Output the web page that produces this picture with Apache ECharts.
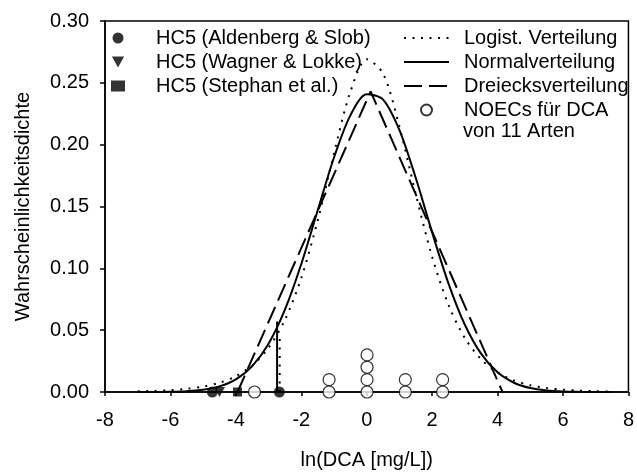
<!DOCTYPE html>
<html>
<head>
<meta charset="utf-8">
<script src="https://cdn.jsdelivr.net/npm/echarts@6/dist/echarts.min.js"></script>
<style>
  html, body { margin: 0; padding: 0; background: #fff; }
  #chart { width: 637px; height: 475px; }
</style>
</head>
<body>
<div id="chart"></div>
<script>
// x-Raster der Kurven (ln DCA)
const xs = [-7, -6.5, -6, -5.5, -5, -4.5, -4, -3.5, -3, -2.5, -2, -1.5, -1, -0.5, 0,
            0.5, 1, 1.5, 2, 2.5, 3, 3.5, 4, 4.5, 5, 5.5, 6, 6.5, 7, 7.5]
// Normalverteilung
const normalY = [0.00002, 0.00007, 0.00023, 0.00069, 0.00185, 0.00456, 0.0102, 0.0209, 0.0391, 0.0666,
                 0.1035, 0.1467, 0.1896, 0.2237, 0.2408, 0.2364, 0.2117, 0.1730, 0.1290, 0.0877,
                 0.0544, 0.0308, 0.0159, 0.0075, 0.0032, 0.0013, 0.00045, 0.00015, 0.00004, 0.00001]
// Logistische Verteilung
const logistY = [0.00052, 0.00089, 0.00152, 0.0026, 0.0044, 0.0075, 0.0128, 0.0215, 0.0358, 0.0583,
                 0.0922, 0.1385, 0.1930, 0.2427, 0.2690, 0.2575, 0.2146, 0.1599, 0.1093, 0.0704,
                 0.0436, 0.0264, 0.0158, 0.0093, 0.0055, 0.0032, 0.0019, 0.0011, 0.00064, 0.00037]
// Dreiecksverteilung: Eckpunkte
const triX = [-3.95, 0.12, 4.15]
const triY = [0, 0.243, 0]

// HC5-Werte
const hc5Aldenberg = [-4.72, -2.67]
const hc5Wagner = [-4.5]
const hc5Stephan = [-3.95]
// Fallinien bei HC5
const dropNormal = [[-2.74, 0], [-2.74, 0.057]]
const dropLogist = [[-2.66, 0], [-2.66, 0.047]]

// NOECs von 11 Arten (gestapelt)
const noecX = [-3.43, -1.15, -1.15, 0.01, 0.01, 0.01, 0.01, 1.18, 1.18, 2.32, 2.32]
const noecY = [0, 0, 0.01, 0, 0.01, 0.02, 0.03, 0, 0.01, 0, 0.01]

const zip = (a, b) => a.map((v, i) => [v, b[i]])
const onAxis = a => a.map(v => [v, 0])

const font = 'Liberation Sans'
const black = '#000'
const fs = 20
const downTriangle = 'path://M0,0 L10,0 L5,9 Z'

// Legendeneintrag nur als Linie (ohne Symbol)
const lineOnly = name => ({ name, itemStyle: { opacity: 0 } })

const chart = echarts.init(document.getElementById('chart'))

chart.setOption({
    animation: false,
    color: [black],
    textStyle: { fontFamily: font, color: black },
    grid: {
        left: 105, right: 5, top: 21, bottom: 82,
        show: true, borderColor: black, borderWidth: 1.5
    },
    legend: [
        {
            data: [
                'HC5 (Aldenberg & Slob)',
                { name: 'HC5 (Wagner & Lokke)', icon: downTriangle },
                'HC5 (Stephan et al.)'
            ],
            orient: 'vertical',
            left: 111, top: 28, padding: 0,
            itemWidth: 14, itemHeight: 11, itemGap: 4,
            selectedMode: false,
            textStyle: { fontFamily: font, fontSize: fs, color: black, lineHeight: 20, padding: [0, 0, 0, 26] }
        },
        {
            data: [lineOnly('Logist. Verteilung'), lineOnly('Normalverteilung'), lineOnly('Dreiecksverteilung'), 'NOECs für DCA'],
            orient: 'vertical',
            left: 403, top: 28, padding: 0,
            itemWidth: 45, itemHeight: 11, itemGap: 4,
            selectedMode: false,
            textStyle: { fontFamily: font, fontSize: fs, color: black, lineHeight: 20, padding: [0, 0, 0, 10] }
        }
    ],
    graphic: [
        {
            type: 'text', left: 463, top: 121,
            style: { text: 'von 11 Arten', fontFamily: font, fontSize: fs, fill: black }
        }
    ],
    xAxis: {
        type: 'value', min: -8, max: 8, interval: 2,
        name: 'ln(DCA [mg/L])', nameLocation: 'middle', nameGap: 58,
        nameTextStyle: { fontFamily: font, fontSize: fs, color: black },
        axisLine: { onZero: false, lineStyle: { color: black, width: 1.5 } },
        axisTick: { inside: false, length: 4, lineStyle: { color: black, width: 1.5 } },
        axisLabel: { fontFamily: font, fontSize: fs, color: black, margin: 18 },
        splitLine: { show: false }
    },
    yAxis: {
        type: 'value', min: 0, max: 0.3, interval: 0.05,
        name: 'Wahrscheinlichkeitsdichte', nameLocation: 'middle', nameGap: 72,
        nameTextStyle: { fontFamily: font, fontSize: fs, color: black },
        axisLine: { onZero: false, lineStyle: { color: black, width: 1.5 } },
        axisTick: { inside: false, length: 5, lineStyle: { color: black, width: 1.5 } },
        axisLabel: { fontFamily: font, fontSize: fs, color: black, margin: 16,
                     formatter: v => v.toFixed(2) },
        splitLine: { show: false }
    },
    series: [
        {
            name: 'Logist. Verteilung', type: 'line', data: zip(xs, logistY),
            smooth: 0.3, symbol: 'none', z: 2,
            itemStyle: { color: black },
            lineStyle: { color: black, width: 2, type: [2, 6.5] }
        },
        {
            name: 'Normalverteilung', type: 'line', data: zip(xs, normalY),
            smooth: 0.3, symbol: 'none', z: 2,
            itemStyle: { color: black },
            lineStyle: { color: black, width: 2 }
        },
        {
            name: 'Dreiecksverteilung', type: 'line', data: zip(triX, triY),
            symbol: 'none', z: 2,
            itemStyle: { color: black },
            lineStyle: { color: black, width: 2, type: [18, 7] }
        },
        {
            type: 'line', data: dropNormal, symbol: 'none', z: 2,
            lineStyle: { color: black, width: 2 }
        },
        {
            type: 'line', data: dropLogist, symbol: 'none', z: 2,
            lineStyle: { color: black, width: 2, type: [2, 6.5] }
        },
        {
            name: 'HC5 (Aldenberg & Slob)', type: 'scatter', data: onAxis(hc5Aldenberg),
            symbol: 'circle', symbolSize: 11, z: 4,
            itemStyle: { color: black }
        },
        {
            name: 'HC5 (Wagner & Lokke)', type: 'scatter', data: onAxis(hc5Wagner),
            symbol: downTriangle, symbolSize: [11, 10], z: 4,
            itemStyle: { color: black }
        },
        {
            name: 'HC5 (Stephan et al.)', type: 'scatter', data: onAxis(hc5Stephan),
            symbol: 'rect', symbolSize: 9, z: 4,
            itemStyle: { color: black }
        },
        {
            name: 'NOECs für DCA', type: 'scatter', data: zip(noecX, noecY),
            symbol: 'circle', symbolSize: 12, z: 3,
            itemStyle: { color: '#fff', borderColor: black, borderWidth: 1.2 }
        }
    ]
})
</script>
</body>
</html>
